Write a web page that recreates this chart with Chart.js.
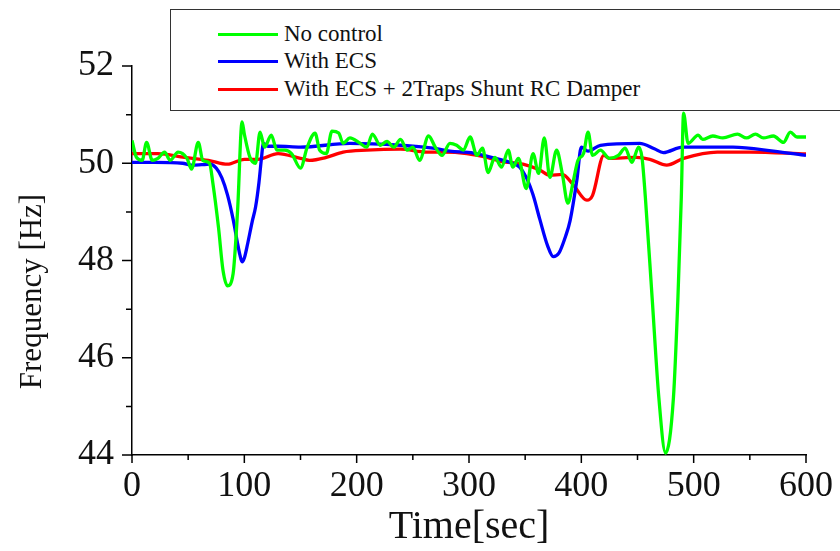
<!DOCTYPE html>
<html>
<head>
<meta charset="utf-8">
<script src="https://cdn.jsdelivr.net/npm/chart.js@4.4.1/dist/chart.umd.min.js"></script>
<style>
    body { margin: 0; background: #fff; }
    #wrap { position: relative; width: 840px; height: 551px; overflow: hidden; }
    #legend {
        position: absolute; left: 170px; top: 9px; width: 700px; height: 102px;
        border: 1.5px solid #333; background: #fff; box-sizing: border-box;
        font-family: 'Liberation Serif', 'Times New Roman', serif; font-size: 23px; color: #111;
    }
    #legend .row { position: absolute; left: 47px; height: 26px; line-height: 26px; white-space: nowrap; }
    #legend .sw { display: inline-block; width: 60px; height: 3px; vertical-align: middle; margin-right: 6px; position: relative; top: -1px; }
</style>
</head>
<body>
<div id="wrap">
    <canvas id="freqChart" width="840" height="551"></canvas>
    <div id="legend"></div>
</div>
<script>
// series labels
const seriesNames = ["No control", "With ECS", "With ECS + 2Traps Shunt RC Damper"];
const seriesColors = ["#00ff00", "#0000ff", "#ff0000"];

// No control
const timeNoCtrl = [0, 4, 9, 13, 18, 23, 29, 34, 41, 49, 53, 59, 63, 69, 72, 77, 81, 85, 90, 94, 98, 100, 105, 110, 114, 118, 124, 129, 136, 142, 150, 156, 163, 167, 173, 178, 184, 188, 194, 203, 209, 214, 221, 227, 233, 239, 245, 250, 256, 264, 270, 276, 283, 289, 295, 301, 307, 312, 317, 323, 329, 335, 339, 344, 351, 357, 362, 367, 372, 378, 383, 388, 393, 397, 402, 406, 410, 417, 425, 433, 439, 445, 451, 454, 457, 463, 469, 475, 482, 486, 489, 491, 495, 504, 508, 517, 526, 539, 547, 555, 562, 571, 580, 586, 592, 600];
const freqNoCtrl = [50.47, 50.12, 50.06, 50.43, 50.06, 50.1, 50.23, 50.06, 50.23, 50.1, 49.88, 50.43, 50.06, 50.0, 49.59, 48.68, 47.8, 47.48, 47.73, 49.03, 50.85, 50.6, 50.12, 50.0, 50.64, 50.33, 50.58, 50.27, 50.27, 50.2, 49.9, 50.33, 50.62, 50.27, 50.2, 50.66, 50.62, 50.41, 50.52, 50.41, 50.33, 50.6, 50.37, 50.45, 50.33, 50.49, 50.27, 50.33, 50.06, 50.56, 50.33, 50.16, 50.41, 50.37, 50.27, 50.54, 50.16, 50.31, 49.81, 50.12, 49.92, 50.27, 49.92, 50.1, 49.48, 50.2, 49.79, 50.52, 49.71, 50.27, 49.79, 49.18, 49.65, 50.06, 50.2, 50.64, 50.16, 50.27, 50.1, 50.16, 50.31, 50.02, 50.33, 50.12, 49.3, 47.24, 45.18, 44.04, 45.18, 47.24, 49.3, 51.03, 50.41, 50.58, 50.49, 50.56, 50.52, 50.6, 50.52, 50.6, 50.52, 50.56, 50.43, 50.64, 50.54, 50.54];

// With ECS
const timeEcs = [0, 20, 45, 53, 62, 69, 75, 80, 85, 90, 94, 96, 98, 100, 103, 107, 110, 113, 115, 117, 121, 130, 150, 194, 239, 268, 283, 304, 320, 336, 345, 351, 357, 363, 370, 375, 380, 386, 390, 396, 400, 406, 417, 452, 465, 473, 490, 535, 571, 600];
const freqEcs = [50.02, 50.02, 50.0, 49.96, 49.97, 49.98, 49.9, 49.7, 49.35, 48.85, 48.35, 48.12, 47.97, 48.05, 48.35, 48.8, 49.1, 49.6, 50.05, 50.41, 50.35, 50.35, 50.33, 50.41, 50.37, 50.31, 50.25, 50.21, 50.12, 50.02, 49.92, 49.71, 49.35, 48.85, 48.3, 48.08, 48.15, 48.5, 48.82, 49.65, 50.33, 50.25, 50.37, 50.41, 50.3, 50.22, 50.33, 50.33, 50.25, 50.16];

// With ECS + 2Traps Shunt RC Damper
const timeDamper = [0, 23, 47, 68, 85, 100, 112, 130, 150, 158, 173, 188, 209, 239, 262, 277, 298, 316, 328, 348, 363, 372, 383, 393, 405, 410, 420, 425, 449, 461, 476, 491, 521, 550, 600];
const freqDamper = [50.2, 50.2, 50.12, 50.06, 49.98, 50.08, 50.08, 50.2, 50.1, 50.06, 50.12, 50.23, 50.27, 50.29, 50.23, 50.23, 50.2, 50.12, 50.04, 49.98, 49.86, 49.75, 49.77, 49.55, 49.24, 49.34, 50.16, 50.1, 50.12, 50.08, 49.96, 50.1, 50.23, 50.23, 50.19];

const serifFont = "'Liberation Serif', 'Times New Roman', serif";

function toPoints(ts, fs) {
    return ts.map((t, i) => ({ x: t, y: fs[i] }));
}

function buildLegend() {
    const box = document.getElementById("legend");
    const tops = [11, 38, 66];
    seriesNames.forEach((name, i) => {
        box.innerHTML += `<div class="row" style="top:` + tops[i] + `px"><span class="sw" style="background:` + seriesColors[i] + `"></span>` + name + `</div>`;
    });
}

// shorter tick marks for the unlabelled (minor) ticks
const minorTicks = {
    id: 'minorTicks',
    afterDraw(chart) {
        const ctx = chart.ctx;
        const xs = chart.scales.x, ys = chart.scales.y;
        ctx.save();
        ctx.strokeStyle = '#000';
        ctx.lineWidth = 1.5;
        ctx.beginPath();
        xs.ticks.forEach(t => {
            const px = xs.getPixelForValue(t.value);
            const len = t.value % 100 === 0 ? 8 : 5;
            ctx.moveTo(px, xs.top);
            ctx.lineTo(px, xs.top + len);
        });
        ys.ticks.forEach(t => {
            const py = ys.getPixelForValue(t.value);
            const len = t.value % 2 === 0 ? 10 : 6;
            ctx.moveTo(ys.right, py);
            ctx.lineTo(ys.right - len, py);
        });
        ctx.stroke();
        ctx.restore();
    }
};

document.addEventListener("DOMContentLoaded", () => {
    buildLegend();

    const allSeries = [toPoints(timeNoCtrl, freqNoCtrl), toPoints(timeEcs, freqEcs), toPoints(timeDamper, freqDamper)];

    new Chart(document.getElementById("freqChart"), {
        type: 'line',
        data: {
            datasets: allSeries.map((pts, i) => ({
                label: seriesNames[i],
                data: pts,
                borderColor: seriesColors[i],
                borderWidth: 3.3,
                pointRadius: 0,
                fill: false,
                cubicInterpolationMode: 'monotone'
            }))
        },
        options: {
            responsive: false,
            animation: false,
            layout: { padding: { top: 66, right: 34, left: 0, bottom: 0 } },
            plugins: {
                legend: { display: false },
                tooltip: { enabled: false }
            },
            scales: {
                x: {
                    type: 'linear',
                    min: 0,
                    max: 600,
                    afterFit: (scale) => { scale.height = 96; },
                    border: { display: true, color: '#000', width: 1.5 },
                    grid: { drawOnChartArea: false, tickLength: 8, tickColor: 'rgba(0,0,0,0)' },
                    ticks: {
                        stepSize: 50,
                        autoSkip: false,
                        maxRotation: 0,
                        padding: 2,
                        color: '#111',
                        font: { family: serifFont, size: 36 },
                        callback: (v) => (v % 100 === 0 ? v : '')
                    },
                    title: {
                        display: true,
                        text: 'Time[sec]',
                        color: '#111',
                        font: { family: serifFont, size: 40 },
                        padding: { top: 2, bottom: 0 }
                    }
                },
                y: {
                    min: 44,
                    max: 52,
                    afterFit: (scale) => { scale.width = 132; },
                    border: { display: true, color: '#000', width: 1.5 },
                    grid: { drawOnChartArea: false, tickLength: 10, tickColor: 'rgba(0,0,0,0)' },
                    ticks: {
                        stepSize: 1,
                        autoSkip: false,
                        padding: 8,
                        color: '#111',
                        font: { family: serifFont, size: 36 },
                        callback: (v) => (v % 2 === 0 ? v : '')
                    },
                    title: {
                        display: true,
                        // trailing spaces push the visible words down, as in the original
                        text: 'Frequency [Hz]\u00a0\u00a0\u00a0\u00a0\u00a0\u00a0\u00a0\u00a0',
                        color: '#111',
                        font: { family: serifFont, size: 31 },
                        padding: { top: 14, bottom: 0 }
                    }
                }
            }
        },
        plugins: [minorTicks]
    });
});
</script>
</body>
</html>
